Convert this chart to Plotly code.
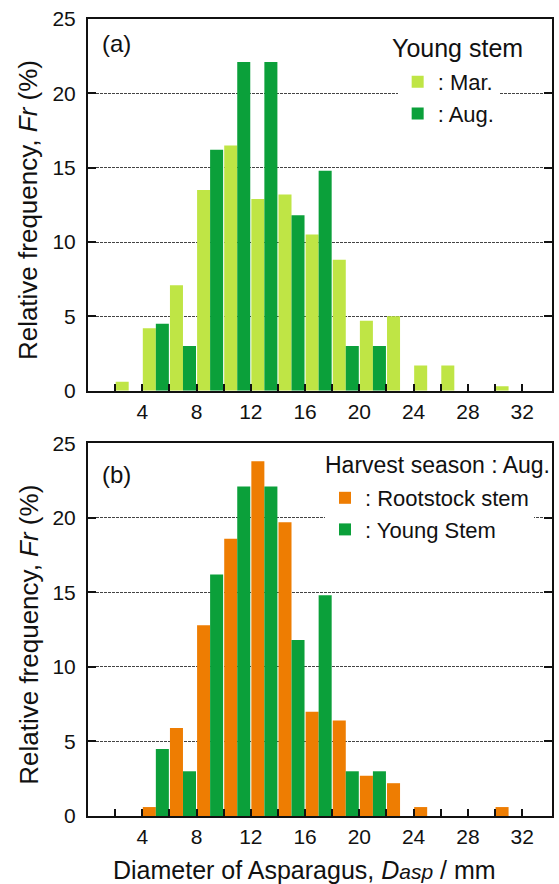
import plotly.graph_objects as go

# ---- data ----
bin_starts = [2, 4, 6, 8, 10, 12, 14, 16, 18, 20, 22, 24, 26, 28, 30]
young_mar = [0.6, 4.2, 7.1, 13.5, 16.5, 12.9, 13.2, 10.5, 8.8, 4.7, 5.0, 1.7, 1.7, 0, 0.3]
young_aug = [0, 4.5, 3.0, 16.2, 22.1, 22.1, 11.8, 14.8, 3.0, 3.0, 0, 0, 0, 0, 0]
rootstock_aug = [0, 0.6, 5.9, 12.8, 18.6, 23.8, 19.7, 7.0, 6.4, 2.7, 2.2, 0.6, 0, 0, 0.6]
x_ticks = [4, 8, 12, 16, 20, 24, 28, 32]
x_minor = [2, 6, 10, 14, 18, 22, 26, 30]
y_ticks = [0, 5, 10, 15, 20, 25]

C_MAR = "#bfe545"
C_AUG = "#0ba03a"
C_ROOT = "#ee7d02"
FONT = "Arial, Liberation Sans, sans-serif"
TXT = "#111111"

centers = [b + 1 for b in bin_starts]

fig = go.Figure()
fig.add_trace(go.Bar(x=centers, y=young_mar, name=": Mar.", marker_color=C_MAR,
                     marker_line_width=0, xaxis="x", yaxis="y", legend="legend",
                     offsetgroup="a1"))
fig.add_trace(go.Bar(x=centers, y=young_aug, name=": Aug.", marker_color=C_AUG,
                     marker_line_width=0, xaxis="x", yaxis="y", legend="legend",
                     offsetgroup="a2"))
fig.add_trace(go.Bar(x=centers, y=rootstock_aug, name=": Rootstock stem", marker_color=C_ROOT,
                     marker_line_width=0, xaxis="x2", yaxis="y2", legend="legend2",
                     offsetgroup="b1"))
fig.add_trace(go.Bar(x=centers, y=young_aug, name=": Young Stem", marker_color=C_AUG,
                     marker_line_width=0, xaxis="x2", yaxis="y2", legend="legend2",
                     offsetgroup="b2"))

L, R, T, B = 88, 5, 19, 68
W, H = 559, 884
PH = H - T - B


def py(pix):
    return (H - B - pix) / PH


def px(pix):
    return (pix - L) / (W - L - R)


xax = dict(range=[0, 34.2], tickvals=x_ticks, ticks="inside", ticklen=7, tickwidth=2,
           tickcolor="#111", showline=True, linewidth=2, linecolor="#111", mirror=True,
           showgrid=False, zeroline=False,
           minor=dict(tickvals=x_minor, ticks="inside", ticklen=7, tickwidth=2, tickcolor="#111"),
           tickfont=dict(family=FONT, size=21, color=TXT), ticklabelstandoff=1)
yax = dict(range=[0, 25], tickvals=y_ticks, ticks="inside", ticklen=8, tickwidth=1.5,
           tickcolor="#111", showline=True, linewidth=2, linecolor="#111", mirror="ticks",
           showgrid=True, gridcolor="#444", gridwidth=1, griddash="3px,1px", zeroline=False,
           tickfont=dict(family=FONT, size=21, color=TXT), ticklabelstandoff=6)

fig.update_layout(
    width=W, height=H, margin=dict(l=L, r=R, t=T, b=B),
    paper_bgcolor="white", plot_bgcolor="white",
    barmode="group", bargap=0.04, bargroupgap=0,
    font=dict(family=FONT, color=TXT),
    xaxis=dict(xax, anchor="y", domain=[0, 1]),
    yaxis=dict(yax, anchor="x", domain=[py(390.7), 1]),
    xaxis2=dict(xax, anchor="y2", domain=[0, 1]),
    yaxis2=dict(yax, anchor="x2", domain=[0, py(443.3)]),
    legend=dict(x=px(399), y=py(61), xanchor="left", yanchor="top", bgcolor="white",
                font=dict(family=FONT, size=22, color=TXT), traceorder="normal",
                borderwidth=0, itemclick=False),
    legend2=dict(x=px(326), y=py(477), xanchor="left", yanchor="top", bgcolor="white",
                 font=dict(family=FONT, size=22, color=TXT), traceorder="normal",
                 borderwidth=0, itemclick=False),
    showlegend=True,
)

# axis titles
for yc in [(19 + 390.7) / 2 + 5, (443.3 + 815.7) / 2 + 5]:
    fig.add_annotation(text="Relative frequency, <i>Fr</i> (%)", xref="paper", yref="paper",
                       x=px(28), y=py(yc), xanchor="center", yanchor="middle", textangle=-90,
                       showarrow=False, font=dict(family=FONT, size=26, color=TXT))
fig.add_annotation(text="Diameter of Asparagus, <i>D<span style='font-size:21px'>asp</span></i> / mm",
                   xref="paper", yref="paper", x=px(305), y=py(870), xanchor="center",
                   yanchor="middle", showarrow=False, font=dict(family=FONT, size=25, color=TXT))

fig.add_annotation(text="(a)", xref="paper", yref="paper", x=px(100), y=py(44),
                   xanchor="left", yanchor="middle", showarrow=False,
                   font=dict(family=FONT, size=24, color=TXT))
fig.add_annotation(text="(b)", xref="paper", yref="paper", x=px(100), y=py(474),
                   xanchor="left", yanchor="middle", showarrow=False,
                   font=dict(family=FONT, size=24, color=TXT))
fig.add_annotation(text="Young stem", xref="paper", yref="paper", x=px(459.5), y=py(48),
                   xanchor="center", yanchor="middle", showarrow=False,
                   font=dict(family=FONT, size=25, color=TXT))
fig.add_annotation(text="Harvest season : Aug.", xref="paper", yref="paper", x=px(439.5), y=py(465),
                   xanchor="center", yanchor="middle", showarrow=False,
                   font=dict(family=FONT, size=23, color=TXT))

fig.write_html("out.html")
